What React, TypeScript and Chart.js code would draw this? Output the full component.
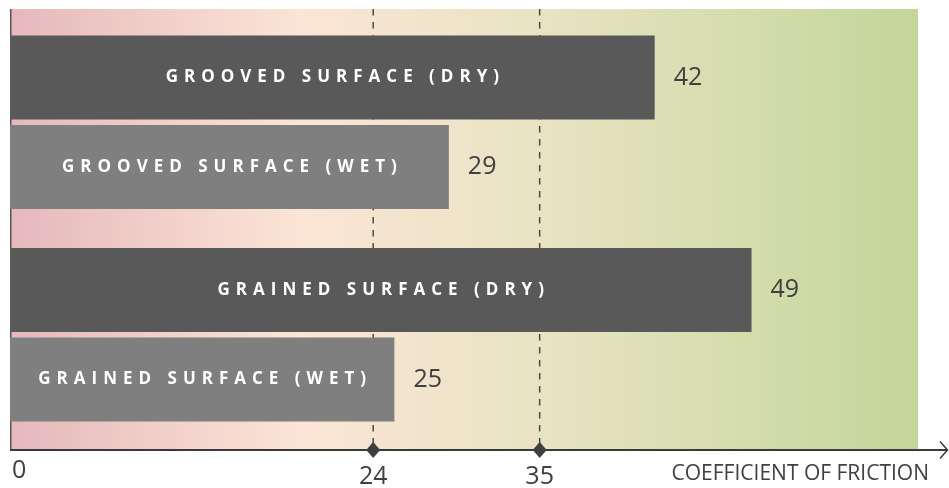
import React, { useEffect, useRef } from 'react';
import { Chart, registerables } from 'chart.js';

Chart.register(...registerables);

const categories = ['Grooved surface', 'Grained surface'];
const dryValues = [42.6, 49];
const wetValues = [29, 25.4];
const dryValueLabels = ['42', '49'];
const wetValueLabels = ['29', '25'];
const dryBarLabels = ['GROOVED SURFACE (DRY)', 'GRAINED SURFACE (DRY)'];
const wetBarLabels = ['GROOVED SURFACE (WET)', 'GRAINED SURFACE (WET)'];
const axisTicks = [0, 24, 35];
const thresholds = [24, 35];
const axisMin = 0;
const axisMax = 60;
const axisTitle = 'COEFFICIENT OF FRICTION';

const FONT = "'Open Sans', 'Noto Sans', sans-serif";
const TEXT = '#404040';

const decor = {
  id: 'decor',
  beforeDatasetsDraw(chart: any) {
    const { ctx, chartArea: a, scales } = chart;
    const x = scales.x;
    const top = a.top - 7;
    const bottom = a.bottom + 9;
    ctx.save();
    const g = ctx.createLinearGradient(a.left, 0, a.right, 0);
    g.addColorStop(0, '#e6b8bc');
    g.addColorStop(0.32, '#fbe5d6');
    g.addColorStop(0.6, '#e7e3c1');
    g.addColorStop(1, '#c3d69a');
    ctx.fillStyle = g;
    ctx.fillRect(a.left, top, a.right - a.left, bottom - top);
    ctx.strokeStyle = '#555';
    ctx.lineWidth = 1.5;
    ctx.beginPath();
    ctx.moveTo(a.left + 0.75, top);
    ctx.lineTo(a.left + 0.75, bottom);
    ctx.stroke();
    ctx.setLineDash([6.5, 6.5]);
    ctx.strokeStyle = '#4a4a4a';
    ctx.lineWidth = 1.5;
    thresholds.forEach((v) => {
      const px = x.getPixelForValue(v);
      ctx.beginPath();
      ctx.moveTo(px, top);
      ctx.lineTo(px, bottom);
      ctx.stroke();
    });
    ctx.restore();
  },
  afterDatasetsDraw(chart: any) {
    const { ctx, chartArea: a, scales, width } = chart;
    const x = scales.x;
    const axisY = a.bottom + 9;
    ctx.save();
    // axis line + arrow
    ctx.strokeStyle = '#3a3a3a';
    ctx.lineWidth = 2;
    ctx.beginPath();
    ctx.moveTo(a.left, axisY);
    ctx.lineTo(width - 2, axisY);
    ctx.stroke();
    ctx.lineWidth = 1.5;
    ctx.beginPath();
    ctx.moveTo(width - 9, axisY - 8.5);
    ctx.lineTo(width - 1.5, axisY);
    ctx.lineTo(width - 9, axisY + 8.5);
    ctx.stroke();
    // diamonds
    ctx.fillStyle = '#3f3f3f';
    thresholds.forEach((v) => {
      const px = x.getPixelForValue(v);
      ctx.beginPath();
      ctx.moveTo(px, axisY - 8);
      ctx.lineTo(px + 7, axisY);
      ctx.lineTo(px, axisY + 8);
      ctx.lineTo(px - 7, axisY);
      ctx.closePath();
      ctx.fill();
    });
    // bar labels
    const spacing = 6;
    const barTexts = [dryBarLabels, wetBarLabels];
    const valueTexts = [dryValueLabels, wetValueLabels];
    chart.data.datasets.forEach((_: any, di: number) => {
      const meta = chart.getDatasetMeta(di);
      meta.data.forEach((el: any, i: number) => {
        const cx = (el.base + el.x) / 2;
        ctx.fillStyle = '#ffffff';
        ctx.font = `bold 17px ${FONT}`;
        (ctx as any).letterSpacing = `${spacing}px`;
        ctx.textAlign = 'center';
        ctx.textBaseline = 'middle';
        ctx.fillText(barTexts[di][i], cx + spacing / 2, el.y);
        (ctx as any).letterSpacing = '0px';
        ctx.fillStyle = TEXT;
        ctx.font = `25px ${FONT}`;
        ctx.textAlign = 'left';
        ctx.fillText(valueTexts[di][i], el.x + 19, el.y);
      });
    });
    // tick labels
    ctx.fillStyle = TEXT;
    ctx.font = `25px ${FONT}`;
    ctx.textBaseline = 'middle';
    axisTicks.forEach((v) => {
      const px = x.getPixelForValue(v);
      if (v === axisMin) {
        ctx.textAlign = 'left';
        ctx.fillText(String(v), px + 2, axisY + 21);
      } else {
        ctx.textAlign = 'center';
        ctx.fillText(String(v), px, axisY + 27);
      }
    });
    ctx.font = `21px ${FONT}`;
    ctx.textAlign = 'right';
    ctx.fillText(axisTitle, 929, axisY + 24);
    ctx.restore();
  },
};

export default function App() {
  const ref = useRef<HTMLCanvasElement | null>(null);
  useEffect(() => {
    if (!ref.current) return;
    const chart = new Chart(ref.current, {
      type: 'bar',
      data: {
        labels: categories,
        datasets: [
          { label: 'Dry', data: dryValues, backgroundColor: '#595959', categoryPercentage: 0.842, barPercentage: 0.9385 },
          { label: 'Wet', data: wetValues, backgroundColor: '#7f7f7f', categoryPercentage: 0.842, barPercentage: 0.9385 },
        ],
      },
      options: {
        indexAxis: 'y',
        animation: false,
        responsive: true,
        maintainAspectRatio: false,
        layout: { padding: { left: 10, right: 31, top: 16, bottom: 47 } },
        plugins: { legend: { display: false }, tooltip: { enabled: false } },
        scales: {
          x: { type: 'linear', min: axisMin, max: axisMax, display: false },
          y: { type: 'category', display: false },
        },
      },
      plugins: [decor],
    } as any);
    return () => chart.destroy();
  }, []);
  return (
    <div style={{ position: 'fixed', left: 0, top: 0, width: 949, height: 488 }}>
      <canvas ref={ref} />
    </div>
  );
}
